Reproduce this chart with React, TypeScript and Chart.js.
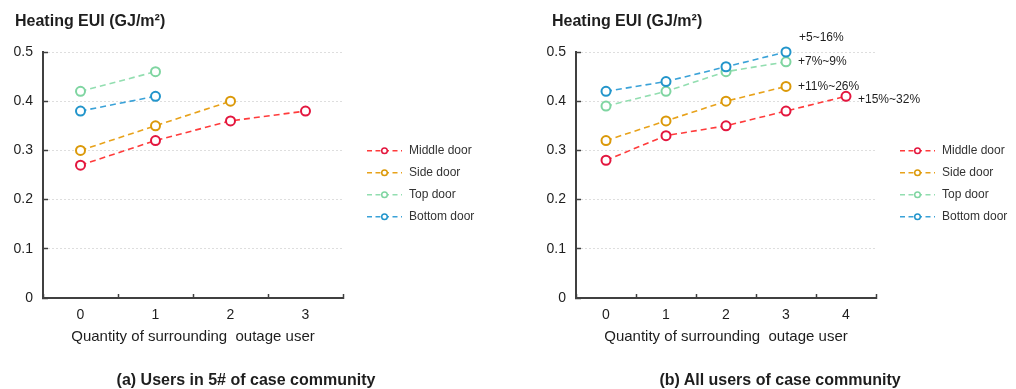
import { useEffect, useRef } from "react";
import { Chart, registerables } from "chart.js";

Chart.register(...registerables);

// ---------- data ----------
const seriesNames = ["Middle door", "Side door", "Top door", "Bottom door"];
const categoriesA = ["0", "1", "2", "3"];
const middleA = [0.27, 0.32, 0.36, 0.38];
const sideA = [0.3, 0.35, 0.4, null];
const topA = [0.42, 0.46, null, null];
const bottomA = [0.38, 0.41, null, null];

const categoriesB = ["0", "1", "2", "3", "4"];
const middleB = [0.28, 0.33, 0.35, 0.38, 0.41];
const sideB = [0.32, 0.36, 0.4, 0.43, null];
const topB = [0.39, 0.42, 0.46, 0.48, null];
const bottomB = [0.42, 0.44, 0.47, 0.5, null];

const increaseLabelsB = ["+15%~32%", "+11%~26%", "+7%~9%", "+5~16%"];
const yTicks = [0, 0.1, 0.2, 0.3, 0.4, 0.5];
const yAxisTitle = "Heating EUI (GJ/m²)";
const xAxisTitle = "Quantity of surrounding  outage user";
const captionA = "(a) Users in 5# of case community";
const captionB = "(b) All users of case community";

// ---------- styles ----------
const FONT = 'Arial, "Liberation Sans", Helvetica, sans-serif';
const lineColors = ["#ff3b3b", "#e8a21a", "#92deb0", "#3aa2d8"];
const pointColors = ["#e3163e", "#db9909", "#7fd5a1", "#2295cb"];
const drawOrder = [0, 1, 3, 2];
const AXIS = "#404040";
const TEXT = "#1e1e1e";
// label offsets (dx, dy) relative to each series' last point
const labelOffsets = [
  [12, 3],
  [12, 0],
  [12, 0],
  [13, -14],
];

Chart.defaults.font.family = FONT;

const sideLegend = {
  id: "sideLegend",
  afterDraw(chart: any) {
    const { ctx, chartArea } = chart;
    ctx.save();
    chart.data.datasets.forEach((ds: any, i: number) => {
      const y = chartArea.top + 98.7 + i * 22;
      const x0 = chartArea.right + 24;
      const x1 = chartArea.right + 59;
      ctx.strokeStyle = ds.borderColor;
      ctx.lineWidth = 1.5;
      ctx.setLineDash([5, 3.5]);
      ctx.beginPath();
      ctx.moveTo(x0, y);
      ctx.lineTo(x1, y);
      ctx.stroke();
      ctx.setLineDash([]);
      ctx.beginPath();
      ctx.arc((x0 + x1) / 2, y, 2.8, 0, Math.PI * 2);
      ctx.fillStyle = "#ffffff";
      ctx.fill();
      ctx.strokeStyle = ds.pointBorderColor;
      ctx.lineWidth = 1.5;
      ctx.stroke();
      ctx.fillStyle = "#333333";
      ctx.font = `12px ${FONT}`;
      ctx.textAlign = "left";
      ctx.textBaseline = "middle";
      ctx.fillText(ds.label, chartArea.right + 66, y);
    });
    ctx.restore();
  },
};

function makeEndLabels(labels: string[] | null) {
  return {
    id: "endLabels",
    afterDatasetsDraw(chart: any) {
      if (!labels) return;
      const { ctx } = chart;
      ctx.save();
      ctx.font = `12px ${FONT}`;
      ctx.fillStyle = TEXT;
      ctx.textAlign = "left";
      ctx.textBaseline = "middle";
      chart.data.datasets.forEach((ds: any, i: number) => {
        let last = -1;
        ds.data.forEach((v: any, j: number) => {
          if (v !== null && v !== undefined) last = j;
        });
        if (last < 0) return;
        const pt = chart.getDatasetMeta(i).data[last];
        const [dx, dy] = labelOffsets[i];
        ctx.fillText(labels[i], pt.x + dx, pt.y + dy);
      });
      ctx.restore();
    },
  };
}

type PanelProps = {
  categories: string[];
  series: (number | null)[][];
  yAxisWidth: number;
  padRight: number;
  endLabels: string[] | null;
};

function Panel({ categories, series, yAxisWidth, padRight, endLabels }: PanelProps) {
  const ref = useRef<HTMLCanvasElement | null>(null);
  useEffect(() => {
    if (!ref.current) return;
    const chart = new Chart(ref.current, {
      type: "line",
      data: {
        labels: categories,
        datasets: series.map((d, i) => ({
          label: seriesNames[i],
          data: d,
          borderColor: lineColors[i],
          borderWidth: 1.6,
          borderDash: [6, 4],
          pointRadius: 4.5,
          pointBorderWidth: 2,
          pointBackgroundColor: "#ffffff",
          pointBorderColor: pointColors[i],
          fill: false,
          tension: 0,
          spanGaps: false,
          clip: false,
          order: drawOrder[i],
        })),
      },
      options: {
        responsive: false,
        animation: false,
        events: [],
        layout: { padding: { top: 52, right: padRight, bottom: 43, left: 0 } },
        plugins: {
          legend: { display: false },
          tooltip: { enabled: false },
          title: { display: false },
        },
        scales: {
          x: {
            type: "category",
            offset: true,
            afterFit: (s: any) => {
              s.height = 48;
            },
            grid: {
              display: true,
              drawOnChartArea: false,
              drawTicks: true,
              tickLength: -4,
              tickWidth: 1.5,
              tickColor: AXIS,
              offset: true,
            },
            border: { display: true, color: AXIS, width: 2 },
            ticks: {
              font: { size: 14 },
              color: TEXT,
              padding: 12.6,
              maxRotation: 0,
              autoSkip: false,
            },
            title: {
              display: true,
              text: xAxisTitle,
              font: { size: 15 },
              color: TEXT,
              padding: { top: 0, bottom: 0 },
            },
          },
          y: {
            type: "linear",
            min: 0,
            max: 0.5,
            afterFit: (s: any) => {
              s.width = yAxisWidth;
            },
            afterBuildTicks: (s: any) => {
              s.ticks = yTicks.map((v) => ({ value: v }));
            },
            grid: {
              color: (c: any) =>
                c.tick && c.tick.value === 0 ? "rgba(0,0,0,0)" : "#dedede",
              lineWidth: 1,
              drawTicks: true,
              tickLength: -5,
              tickWidth: 1.5,
              tickColor: AXIS,
            },
            border: { display: true, color: AXIS, width: 2, dash: [2, 2] },
            ticks: {
              font: { size: 14 },
              color: TEXT,
              padding: 15,
              callback: (v: any) => String(Math.round(Number(v) * 10) / 10),
            },
          },
        },
      },
      plugins: [sideLegend, makeEndLabels(endLabels)],
    } as any);
    return () => chart.destroy();
  }, []);
  return <canvas ref={ref} width={508} height={389} style={{ display: "block" }} />;
}

export default function App() {
  const titleStyle: any = {
    position: "absolute",
    top: 11,
    font: `bold 16px ${FONT}`,
    lineHeight: "20px",
    color: TEXT,
    whiteSpace: "nowrap",
  };
  const captionStyle: any = {
    position: "absolute",
    top: 370,
    width: 400,
    textAlign: "center",
    font: `bold 16px ${FONT}`,
    lineHeight: "20px",
    color: TEXT,
    whiteSpace: "nowrap",
  };
  return (
    <div
      style={{
        position: "absolute",
        left: 0,
        top: 0,
        width: 1016,
        height: 389,
        background: "#ffffff",
        overflow: "hidden",
      }}
    >
      <div style={{ position: "absolute", left: 0, top: 0 }}>
        <Panel
          categories={categoriesA}
          series={[middleA, sideA, topA, bottomA]}
          yAxisWidth={43}
          padRight={165}
          endLabels={null}
        />
      </div>
      <div style={{ position: "absolute", left: 508, top: 0 }}>
        <Panel
          categories={categoriesB}
          series={[middleB, sideB, topB, bottomB]}
          yAxisWidth={68}
          padRight={140}
          endLabels={increaseLabelsB}
        />
      </div>
      <div style={{ ...titleStyle, left: 15 }}>{yAxisTitle}</div>
      <div style={{ ...titleStyle, left: 552 }}>{yAxisTitle}</div>
      <div style={{ ...captionStyle, left: 246 - 200 }}>{captionA}</div>
      <div style={{ ...captionStyle, left: 780 - 200 }}>{captionB}</div>
    </div>
  );
}
